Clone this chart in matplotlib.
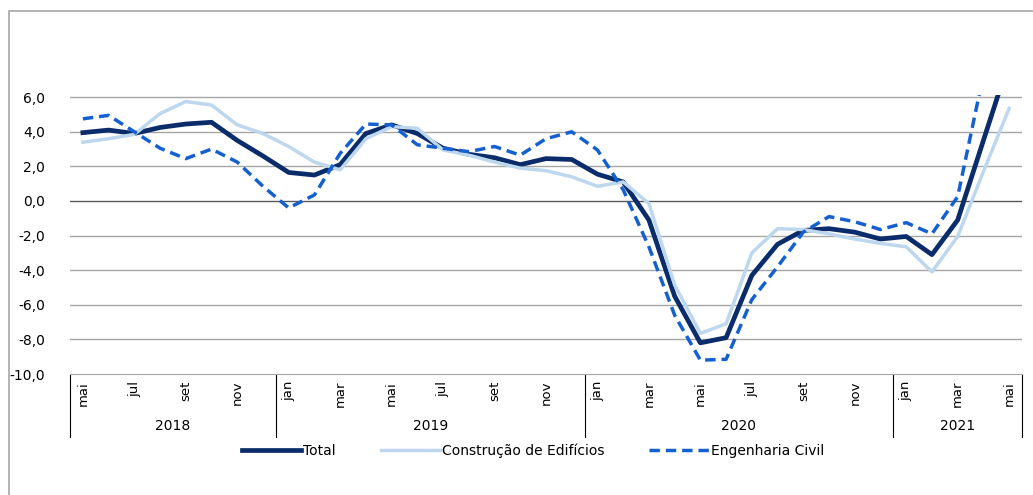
import matplotlib.pyplot as plt
from matplotlib.patches import Rectangle

# monthly series, mai/2018 .. mai/2021
months = ['mai', 'jun', 'jul', 'ago', 'set', 'out', 'nov', 'dez',
          'jan', 'fev', 'mar', 'abr', 'mai', 'jun', 'jul', 'ago', 'set', 'out', 'nov', 'dez',
          'jan', 'fev', 'mar', 'abr', 'mai', 'jun', 'jul', 'ago', 'set', 'out', 'nov', 'dez',
          'jan', 'fev', 'mar', 'abr', 'mai']
years = ['2018', '2019', '2020', '2021']
year_start = [0, 8, 20, 32]

total = [3.95, 4.1, 3.9, 4.25, 4.45, 4.55, 3.5, 2.6,
         1.65, 1.5, 2.1, 3.9, 4.4, 3.9, 3.05, 2.7, 2.5, 2.1, 2.45, 2.4,
         1.55, 1.1, -1.1, -5.5, -8.2, -7.9, -4.3, -2.5, -1.7, -1.6, -1.8, -2.2,
         -2.05, -3.1, -1.1, 3.5, 8.1]
edificios = [3.4, 3.6, 3.85, 5.05, 5.75, 5.55, 4.4, 3.9,
             3.15, 2.25, 1.8, 3.6, 4.3, 4.2, 2.95, 2.65, 2.25, 1.9, 1.75, 1.4,
             0.85, 1.1, -0.15, -4.85, -7.65, -7.1, -3.0, -1.6, -1.65, -1.9, -2.2, -2.45,
             -2.65, -4.1, -2.05, 1.7, 5.35]
eng_civil = [4.75, 4.95, 4.0, 3.05, 2.45, 3.0, 2.25, 0.85,
             -0.4, 0.35, 2.75, 4.45, 4.4, 3.25, 3.05, 2.85, 3.15, 2.65, 3.6, 4.0,
             2.95, 0.65, -2.65, -6.6, -9.2, -9.15, -5.7, -3.8, -1.8, -0.9, -1.2, -1.65,
             -1.25, -1.9, 0.25, 7.3, 9.0]

plt.rcParams['font.family'] = ['DejaVu Sans']

W, H = 1033, 495
fig = plt.figure(figsize=(W / 100, H / 100), dpi=100)
fig.patches.append(Rectangle((9 / W, -0.1), 1.2, 1 - 11 / H + 0.1, transform=fig.transFigure,
                             fill=False, edgecolor='#a6a6a6', linewidth=1.2))

ymin, ymax = -10, 6.15
ppu = 17.3
ax_h = (ymax - ymin) * ppu
ax = fig.add_axes([70 / W, (H - 374) / H, (1022 - 70) / W, ax_h / H])

x = list(range(len(months)))
ax.plot(x, total, color='#0b2c6a', linewidth=3.4, label='Total')
ax.plot(x, edificios, color='#bdd7ee', linewidth=2.5, label='Construção de Edifícios')
ax.plot(x, eng_civil, color='#1560d0', linewidth=2.5, dashes=(3, 1.7), label='Engenharia Civil')

ax.set_xlim(-0.5, len(months) - 0.5)
ax.set_ylim(ymin, ymax)
ax.set_yticks(range(-10, 7, 2))
ax.set_yticklabels([f'{v},0' for v in range(-10, 7, 2)], fontsize=10)
for v in range(-8, 7, 2):
    ax.axhline(v, color='#595959' if v == 0 else '#a6a6a6', linewidth=1, zorder=0)
for s in ['top', 'right', 'left']:
    ax.spines[s].set_visible(False)
ax.spines['bottom'].set_color('#a6a6a6')
ax.tick_params(axis='y', length=0, pad=18)

ax.set_xticks(x[::2])
ax.set_xticklabels(months[::2], rotation=90, fontsize=9.5)
ax.tick_params(axis='x', length=0, pad=5)

# year groups below the month labels
sep_bottom = -(437 - 374) / ax_h
bounds = year_start + [len(months)]
for b in bounds:
    ax.plot([b - 0.5, b - 0.5], [0, sep_bottom], transform=ax.get_xaxis_transform(),
            color='black', linewidth=0.8, clip_on=False)
for i, yr in enumerate(years):
    xc = (bounds[i] + bounds[i + 1] - 1) / 2
    ax.text(xc, -(426 - 374) / ax_h, yr, transform=ax.get_xaxis_transform(),
            ha='center', va='center', fontsize=10)

fig.legend(loc='center', bbox_to_anchor=(533 / W, 1 - 451 / H), ncol=3, frameon=False,
           fontsize=10, handlelength=4.3, handletextpad=0.15, columnspacing=3.2)

fig.savefig('out.png', dpi=100)
